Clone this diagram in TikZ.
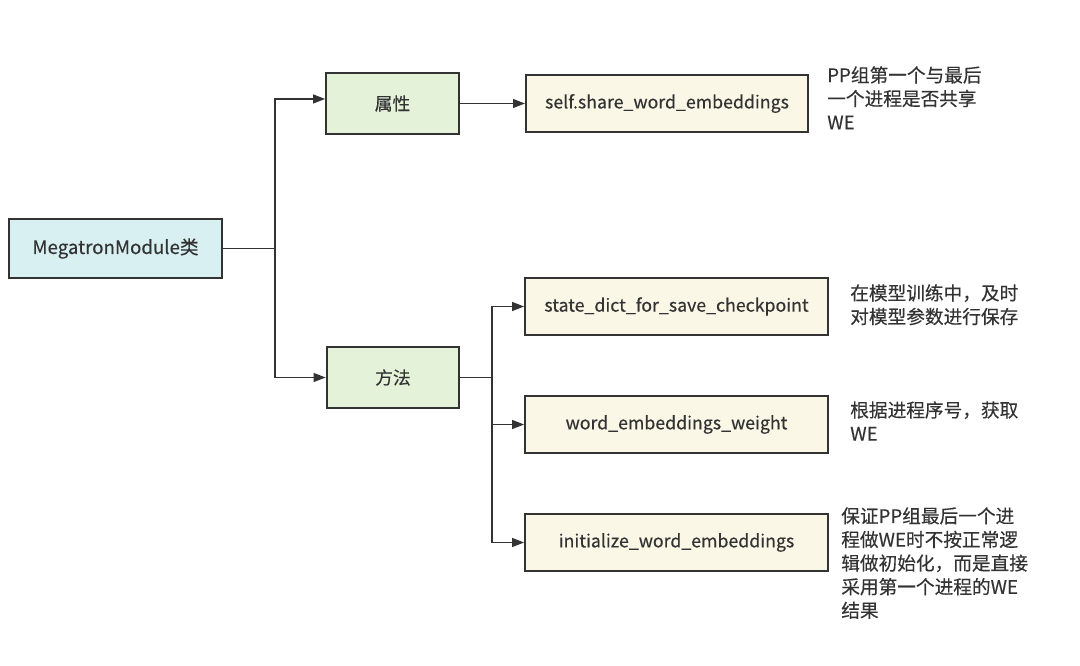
\documentclass[tikz,border=0pt]{standalone}
\usepackage{fontspec}
\setmainfont{Noto Sans CJK SC}[FakeBold=0.35]
\usetikzlibrary{arrows.meta}
\definecolor{ink}{HTML}{333333}
\definecolor{cyanfill}{HTML}{D9F0F2}
\definecolor{greenfill}{HTML}{E3F2D9}
\definecolor{beigefill}{HTML}{FAF7E6}
\tikzset{
  box/.style={draw=ink, line width=1.4pt, text=ink, font=\fontsize{13.3}{16}\selectfont, inner sep=0pt},
  rootbox/.style={box, fill=cyanfill, minimum width=160pt, minimum height=44pt, font=\fontsize{14}{16}\selectfont},
  catbox/.style={box, fill=greenfill, minimum width=99.5pt, minimum height=45.5pt},
  leafbox/.style={box, fill=beigefill, minimum height=43pt},
  note/.style={anchor=north west, align=left, text=ink, inner sep=0pt, font=\fontsize{14}{17.7}\selectfont},
  link/.style={draw=ink, line width=1.4pt},
  arrow/.style={link, -{Triangle[length=9pt,width=6.5pt]}}
}
\begin{document}
\begin{tikzpicture}[x=0.75pt,y=-0.75pt]
\useasboundingbox (0,0) rectangle (1080,666);
\node[rootbox] (mm) at (115.5,248.5) {MegatronModule类};
\node[catbox] (attr) at (392.5,103.5) {属性};
\node[catbox] (meth) at (393,377.5) {方法};
\node[leafbox, minimum width=211.5pt] (share) at (667,103.5) {self.share\_word\_embeddings};
\node[leafbox, minimum width=227pt] (sd) at (676.5,306.5) {state\_dict\_for\_save\_checkpoint};
\node[leafbox, minimum width=227pt] (wew) at (676.5,424.5) {word\_embeddings\_weight};
\node[leafbox, minimum width=227pt] (init) at (676.5,542.5) {initialize\_word\_embeddings};
\coordinate (j1) at (275,248.5);
\coordinate (j2) at (492,377.5);
\draw[link] (mm.east) -- (j1);
\draw[arrow] (j1) |- ([yshift=3.4pt]attr.west);
\draw[arrow] (j1) |- (meth.west);
\draw[arrow] (attr.east) -- (share.west);
\draw[link] (meth.east) -- (j2);
\draw[arrow] (j2) |- (sd.west);
\draw[arrow] (j2) |- (wew.west);
\draw[arrow] (j2) |- (init.west);
\node[note] (n1) at (827,66) {PP组第一个与最后\\一个进程是否共享\\WE};
\node[note] (n2) at (850,284) {在模型训练中，及时\\对模型参数进行保存};
\node[note] (n3) at (850,401) {根据进程序号，获取\\WE};
\node[note] (n4) at (841,507) {保证PP组最后一个进\\程做WE时不按正常逻\\辑做初始化，而是直接\\采用第一个进程的WE\\结果};
\end{tikzpicture}
\end{document}
